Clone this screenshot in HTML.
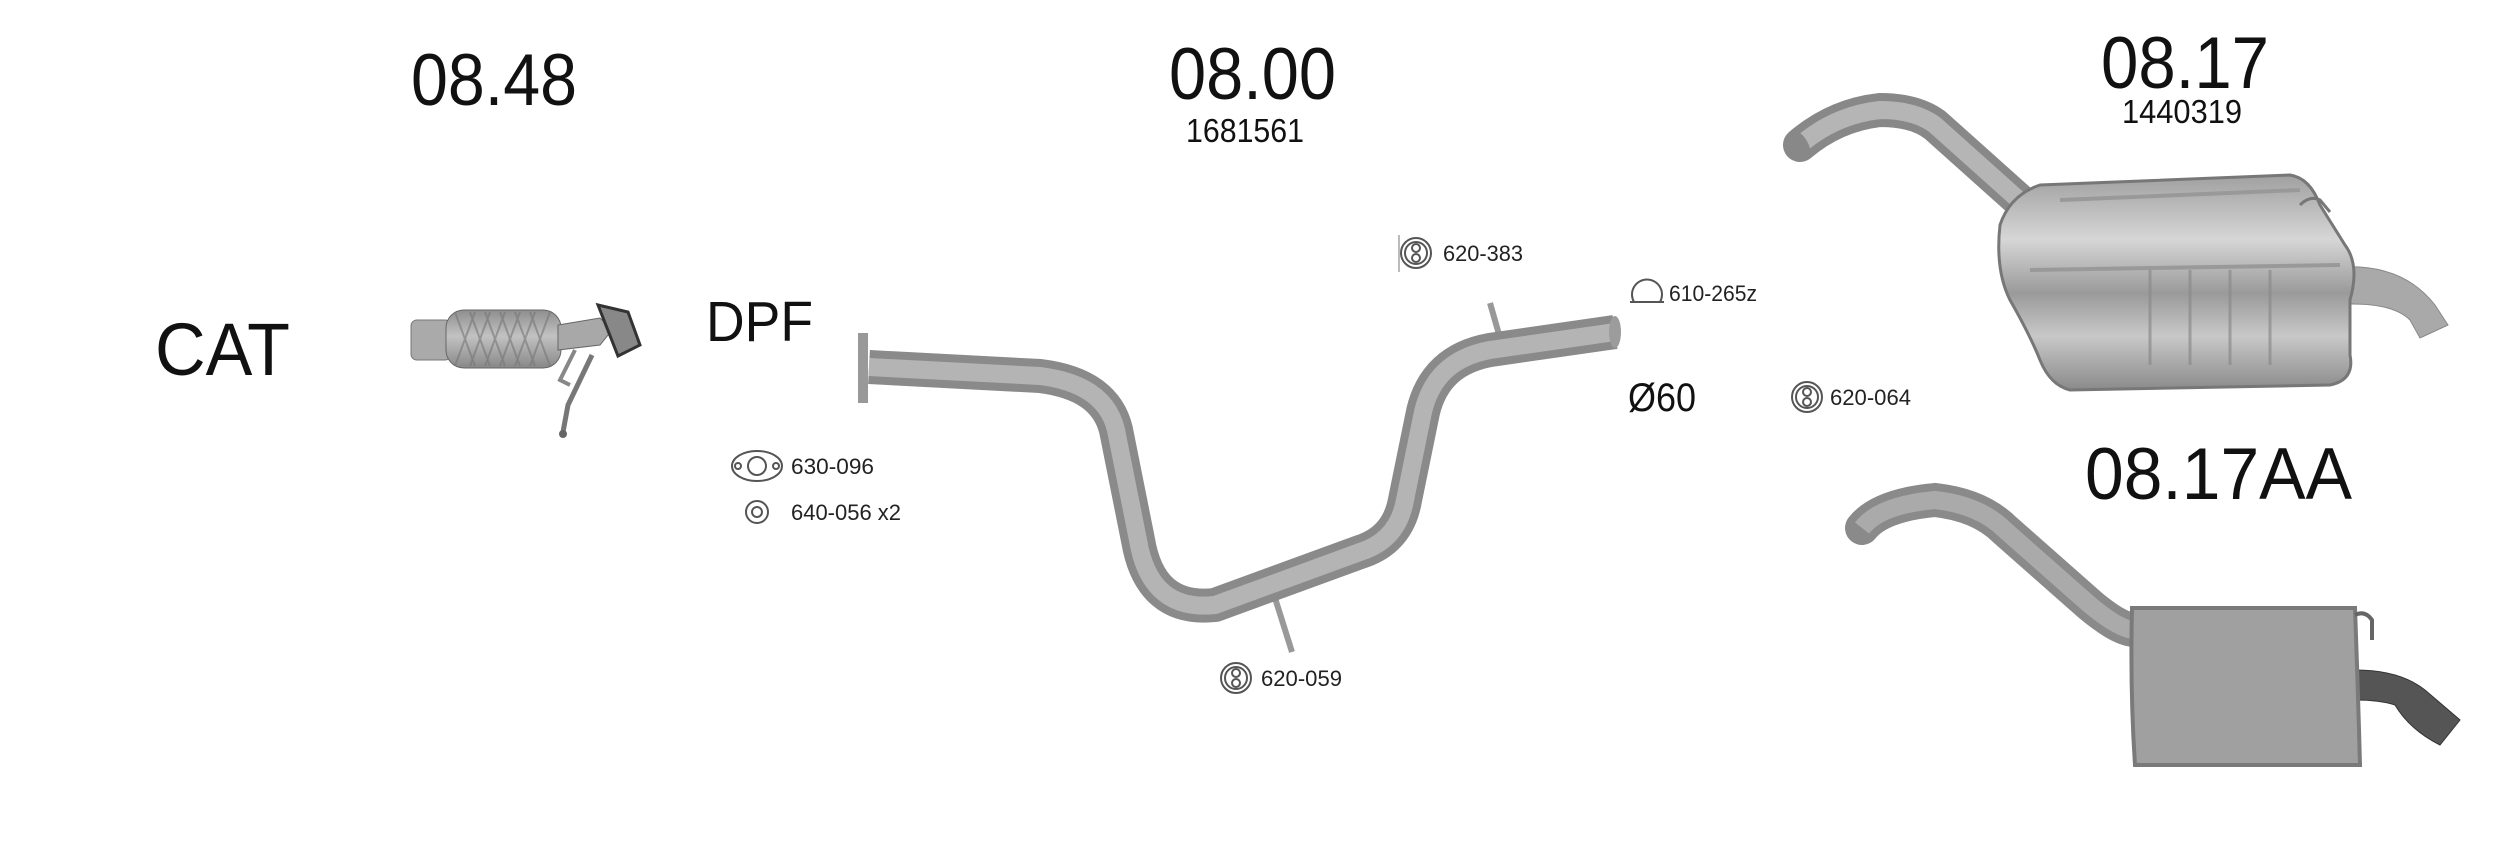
<!DOCTYPE html>
<html><head><meta charset="utf-8"><style>
html,body{margin:0;padding:0;background:#fff;width:2500px;height:844px;overflow:hidden}
svg{display:block}
text{font-family:"Liberation Sans",Arial,sans-serif;fill:#111}
.s{font-size:22px;fill:#222}
</style></head><body>
<svg width="2500" height="844" viewBox="0 0 2500 844" xmlns="http://www.w3.org/2000/svg">
<defs>
<linearGradient id="g1" x1="0" y1="0" x2="0" y2="1"><stop offset="0" stop-color="#8e8e8e"/><stop offset=".45" stop-color="#c2c2c2"/><stop offset="1" stop-color="#888"/></linearGradient>
<linearGradient id="mf" x1="0" y1="0" x2="0" y2="1"><stop offset="0" stop-color="#a0a0a0"/><stop offset=".3" stop-color="#d6d6d6"/><stop offset=".55" stop-color="#9a9a9a"/><stop offset=".75" stop-color="#c8c8c8"/><stop offset="1" stop-color="#8a8a8a"/></linearGradient>
</defs>

<!-- Titles -->
<text x="411" y="105" font-size="73" textLength="166" lengthAdjust="spacingAndGlyphs">08.48</text>
<text x="1169" y="99" font-size="73" textLength="167" lengthAdjust="spacingAndGlyphs">08.00</text>
<text x="1186" y="142" font-size="33" textLength="118" lengthAdjust="spacingAndGlyphs">1681561</text>
<text x="2101" y="88" font-size="73" textLength="168" lengthAdjust="spacingAndGlyphs">08.17</text>
<text x="2122" y="123" font-size="33" textLength="120" lengthAdjust="spacingAndGlyphs">1440319</text>
<text x="2085" y="499" font-size="73" textLength="267" lengthAdjust="spacingAndGlyphs">08.17AA</text>
<text x="155" y="375" font-size="74" textLength="135" lengthAdjust="spacingAndGlyphs">CAT</text>
<text x="706" y="341" font-size="57" textLength="107" lengthAdjust="spacingAndGlyphs">DPF</text>
<text x="1628" y="411" font-size="40" textLength="68" lengthAdjust="spacingAndGlyphs">Ø60</text>

<!-- small labels -->
<text class="s" x="1443" y="261" textLength="80" lengthAdjust="spacingAndGlyphs">620-383</text>
<text class="s" x="1669" y="301" textLength="88" lengthAdjust="spacingAndGlyphs">610-265z</text>
<text class="s" x="1830" y="405" textLength="81" lengthAdjust="spacingAndGlyphs">620-064</text>
<text class="s" x="791" y="474" textLength="83" lengthAdjust="spacingAndGlyphs">630-096</text>
<text class="s" x="791" y="520" textLength="110" lengthAdjust="spacingAndGlyphs">640-056 x2</text>
<text class="s" x="1261" y="686" textLength="81" lengthAdjust="spacingAndGlyphs">620-059</text>

<!-- icons -->
<g fill="none" stroke="#555" stroke-width="2">
 <g transform="translate(1416,253)"><circle r="15"/><circle r="11"/><circle cy="-5" r="4"/><circle cy="5" r="4"/></g>
 <line x1="1399" y1="235" x2="1399" y2="272" stroke="#bbb"/>
 <g transform="translate(1807,397)"><circle r="15"/><circle r="11"/><circle cy="-5" r="4"/><circle cy="5" r="4"/></g>
 <g transform="translate(1236,678)"><circle r="15"/><circle r="11"/><circle cy="-5" r="4"/><circle cy="5" r="4"/></g>
 <path d="M1634,302 a15,15 0 1 1 26,0 M1630,302 h34"/>
 <g transform="translate(757,466)"><ellipse rx="25" ry="15"/><circle r="9"/><circle cx="-19" r="3"/><circle cx="19" r="3"/></g>
 <g transform="translate(757,512)"><circle r="11"/><circle r="5"/></g>
</g>

<!-- 08.00 middle pipe -->
<line x1="1490" y1="303" x2="1502" y2="345" stroke="#999" stroke-width="6"/>
<line x1="1275" y1="598" x2="1292" y2="652" stroke="#999" stroke-width="6"/>
<path d="M869,367 L1040,376 Q1105,384 1116,430 L1138,540 Q1150,612 1215,605 L1360,552 Q1398,540 1405,500 L1423,412 Q1435,360 1490,350 L1615,332" fill="none" stroke="#8a8a8a" stroke-width="34" stroke-linejoin="round"/>
<path d="M869,367 L1040,376 Q1105,384 1116,430 L1138,540 Q1150,612 1215,605 L1360,552 Q1398,540 1405,500 L1423,412 Q1435,360 1490,350 L1615,332" fill="none" stroke="#b4b4b4" stroke-width="18" stroke-linejoin="round"/>
<rect x="858" y="333" width="10" height="70" fill="#999"/>
<ellipse cx="1615" cy="332" rx="6" ry="16" fill="#9c9c9c"/>

<!-- CAT flex -->
<rect x="411" y="320" width="40" height="40" rx="6" fill="#aaa" stroke="#777"/>
<rect x="446" y="310" width="115" height="58" rx="18" fill="url(#g1)" stroke="#666"/>
<g stroke="#777" stroke-width="2" opacity=".6">
 <path d="M455,312 L475,366 M470,312 L490,366 M485,312 L505,366 M500,312 L520,366 M515,312 L535,366 M530,312 L550,366"/>
 <path d="M475,312 L455,366 M490,312 L470,366 M505,312 L485,366 M520,312 L500,366 M535,312 L515,366 M550,312 L530,366"/>
</g>
<path d="M558,325 L600,318 L612,330 L600,345 L558,350 Z" fill="#a8a8a8" stroke="#666"/>
<path d="M598,305 L628,312 L640,345 L618,356 Z" fill="#888" stroke="#333" stroke-width="3"/>
<path d="M592,355 L568,405 L563,432" fill="none" stroke="#777" stroke-width="5"/>
<path d="M575,350 L560,380 L570,385" fill="none" stroke="#888" stroke-width="4"/>
<circle cx="563" cy="434" r="4" fill="#666"/>

<!-- 08.17 muffler -->
<path d="M1800,145 Q1835,115 1880,110 Q1915,110 1935,125 L2030,210" fill="none" stroke="#888" stroke-width="34" stroke-linecap="round"/>
<path d="M1800,145 Q1835,115 1880,110 Q1915,110 1935,125 L2030,210" fill="none" stroke="#b5b5b5" stroke-width="18"/>
<ellipse cx="1800" cy="145" rx="8" ry="16" fill="#888" transform="rotate(-30 1800 145)"/>
<path d="M2330,268 Q2400,260 2435,305 L2448,325 L2420,338 L2410,320 Q2390,300 2330,305 Z" fill="#a9a9a9" stroke="#888"/>
<path d="M2000,225 Q2010,195 2040,185 L2290,175 Q2310,178 2320,205 L2345,245 Q2360,265 2350,300 L2350,355 Q2355,380 2330,385 L2070,390 Q2050,385 2040,360 Q2030,335 2010,300 Q1995,270 2000,225 Z" fill="url(#mf)" stroke="#777" stroke-width="3"/>
<path d="M2060,200 L2300,190 M2030,270 L2340,265" stroke="#999" stroke-width="4" fill="none"/>
<g stroke="#8a8a8a" stroke-width="3" fill="none" opacity=".7"><path d="M2150,270 v95 M2190,270 v95 M2230,270 v95 M2270,270 v95"/></g>
<path d="M2300,205 Q2310,195 2320,200 L2330,212" fill="none" stroke="#777" stroke-width="3"/>

<!-- 08.17AA -->
<path d="M1862,528 Q1880,505 1935,500 Q1980,505 2005,530 L2090,605 Q2120,630 2135,630" fill="none" stroke="#8a8a8a" stroke-width="34" stroke-linecap="round"/>
<path d="M1862,528 Q1880,505 1935,500 Q1980,505 2005,530 L2090,605 Q2120,630 2135,630" fill="none" stroke="#aaa" stroke-width="18"/>
<path d="M2355,670 Q2400,670 2425,690 L2460,720 L2440,745 Q2410,730 2395,705 Q2380,700 2355,700 Z" fill="#555" stroke="#333"/>
<path d="M2132,608 L2355,608 Q2358,690 2360,765 L2135,765 Q2130,690 2132,608 Z" fill="#a0a0a0" stroke="#7a7a7a" stroke-width="4"/>
<path d="M2355,615 Q2365,610 2372,620 L2372,640" fill="none" stroke="#666" stroke-width="4"/>
</svg>
</body></html>
